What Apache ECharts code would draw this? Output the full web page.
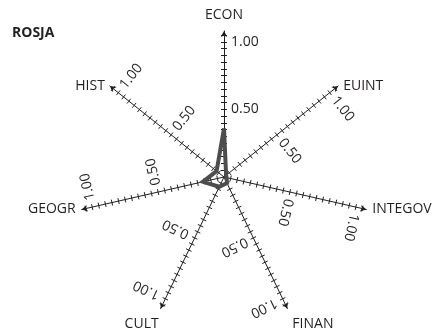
<!DOCTYPE html>
<html>
<head>
<meta charset="utf-8">
<script src="https://cdn.jsdelivr.net/npm/echarts@6/dist/echarts.min.js"></script>
<style>
  html, body { margin: 0; padding: 0; background: #ffffff; }
  #chart { width: 437px; height: 335px; }
</style>
</head>
<body>
<div id="chart"></div>
<script>
// Axes listed clockwise, starting from the top.
const axisNames = ['ECON', 'EUINT', 'INTEGOV', 'FINAN', 'CULT', 'GEOGR', 'HIST'];
const rosjaValues = [0.36, 0.02, 0.02, 0.05, 0.08, 0.16, 0.07];
const tickLabelValues = [0.5, 1.0];
const minorTickValues = [0.05, 0.1, 0.15, 0.2, 0.25, 0.3, 0.35, 0.4, 0.45, 0.5,
                         0.55, 0.6, 0.65, 0.7, 0.75, 0.8, 0.85, 0.9, 0.95, 1.0, 1.05];
const chartTitle = 'ROSJA';

const CENTER = [224, 177];
const AXIS_MAX = 1.08;
const AXIS_RADIUS = 146;
const FONT = '"Open Sans", "Noto Sans", sans-serif';
const INK = '#231f20';

// Placement of each axis name relative to its arrow tip.
const namePlacement = [
  { gap: 9, style: {} },
  { gap: 0, style: { align: 'left', verticalAlign: 'middle', padding: [0, 0, 0, 5] } },
  { gap: 0, style: { align: 'left', verticalAlign: 'middle', padding: [0, 0, 0, 6] } },
  { gap: 0, style: { align: 'left', verticalAlign: 'top', padding: [8, 0, 0, 5] } },
  { gap: 0, style: { align: 'right', verticalAlign: 'top', padding: [8, 2, 0, 0] } },
  { gap: 0, style: { align: 'right', verticalAlign: 'middle', padding: [5, 6, 0, 0] } },
  { gap: 0, style: { align: 'right', verticalAlign: 'middle', padding: [0, 5, 0, 0] } }
];

const step = 360 / axisNames.length;
const angles = axisNames.map((_, i) => 90 - i * step);

const polar = [], angleAxis = [], radiusAxis = [];
// Two polar systems per axis: the first draws the line, arrow, name, labels and
// one half of every tick; the second adds the tick halves on the other side.
for (let pass = 0; pass < 2; pass++) {
  axisNames.forEach((name, i) => {
    const idx = polar.length;
    const main = pass === 0;
    polar.push({ center: CENTER, radius: AXIS_RADIUS });
    angleAxis.push({
      polarIndex: idx, type: 'value', min: 0, max: 360,
      startAngle: angles[i], show: false
    });
    radiusAxis.push({
      polarIndex: idx, type: 'value', min: 0, max: AXIS_MAX,
      name: main ? name : '',
      nameLocation: 'end',
      nameGap: namePlacement[i].gap,
      nameTextStyle: Object.assign(
        { fontFamily: FONT, fontSize: 14, color: INK }, namePlacement[i].style),
      axisLine: {
        show: main,
        symbol: ['none', 'arrow'],
        symbolSize: [5, 6],
        lineStyle: { color: INK, width: 1 }
      },
      axisTick: {
        show: true,
        customValues: minorTickValues,
        length: main ? 3 : -3,
        lineStyle: { color: INK, width: 1 }
      },
      axisLabel: {
        show: main,
        customValues: tickLabelValues,
        formatter: v => Number(v).toFixed(2),
        rotate: angles[i] - 90,
        margin: -7,
        align: 'left',
        fontFamily: FONT, fontSize: 14, color: INK
      },
      splitLine: { show: false },
      splitArea: { show: false }
    });
  });
}

// Radar indicators run counter-clockwise from the top.
const ccwOrder = [0].concat(axisNames.map((_, i) => i).slice(1).reverse());

const option = {
  animation: false,
  backgroundColor: '#ffffff',
  title: {
    text: chartTitle, left: 7, top: 21,
    textStyle: { fontFamily: FONT, fontSize: 14, fontWeight: 'bold', color: INK }
  },
  polar, angleAxis, radiusAxis,
  radar: {
    center: CENTER, radius: AXIS_RADIUS, shape: 'polygon', startAngle: 90,
    indicator: ccwOrder.map(i => ({ name: axisNames[i], min: 0, max: AXIS_MAX })),
    axisName: { show: false },
    axisLine: { show: false },
    axisTick: { show: false },
    axisLabel: { show: false },
    splitLine: { show: false },
    splitArea: { show: false }
  },
  series: [{
    type: 'radar',
    symbol: 'none',
    z: 5,
    lineStyle: { color: '#4d4d4d', width: 4, join: 'miter' },
    data: [{ value: ccwOrder.map(i => rosjaValues[i]), name: chartTitle }]
  }]
};

echarts.init(document.getElementById('chart'), null, { renderer: 'canvas' }).setOption(option);
</script>
</body>
</html>
